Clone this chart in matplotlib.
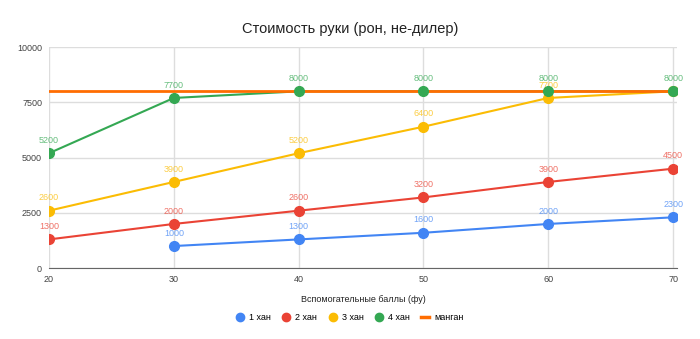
import matplotlib.pyplot as plt
from matplotlib.lines import Line2D

plt.rcParams['font.family'] = ['Liberation Sans', 'DejaVu Sans']

fu = [20, 30, 40, 50, 60, 70]
han1_x = [30, 40, 50, 60, 70]
han1 = [1000, 1300, 1600, 2000, 2300]
han2 = [1300, 2000, 2600, 3200, 3900, 4500]
han3 = [2600, 3900, 5200, 6400, 7700, 8000]
han4 = [5200, 7700, 8000, 8000, 8000, 8000]
mangan = [8000, 8000, 8000, 8000, 8000, 8000]
y_ticks = [0, 2500, 5000, 7500, 10000]

BLUE = '#4285F4'
RED = '#EA4335'
YELLOW = '#FBBC04'
GREEN = '#34A853'
ORANGE = '#FF6D01'

fig = plt.figure(figsize=(7, 3.39), dpi=100)
ax = fig.add_axes([0.07, 0.209, 0.897, 0.652])

# lines first, markers on top (like google charts)
ax.plot(fu, mangan, color=ORANGE, lw=2, zorder=3)


def series(xs, ys, color, skip=()):
    ax.plot(xs, ys, color=color, lw=1.5, zorder=2)
    ax.plot(xs, ys, ls='', color=color, marker='o', ms=7, zorder=4)
    for i, (x, y) in enumerate(zip(xs, ys)):
        if i in skip:
            continue
        ax.annotate(str(y), (x, y), xytext=(0, 6), textcoords='offset points',
                    ha='center', va='bottom', fontsize=6.5, color=color, alpha=0.75)


series(han1_x, han1, BLUE)
series(fu, han2, RED)
series(fu, han3, YELLOW, skip=(5,))
series(fu, han4, GREEN)

ax.set_xlim(20, 70.3)
ax.set_ylim(0, 10000)
ax.set_xticks(fu)
ax.set_yticks(y_ticks)
ax.tick_params(labelsize=6.5, length=0, colors='#444444', pad=5)
ax.grid(True, color='#dddddd', lw=1)
ax.set_axisbelow(True)
for s in ['top', 'right', 'left']:
    ax.spines[s].set_visible(False)
ax.spines['bottom'].set_color('#666666')

ax.set_xlabel('Вспомогательные баллы (фу)', fontsize=6.5, color='#222222', labelpad=8)
fig.suptitle('Стоимость руки (рон, не-дилер)', fontsize=10.5, y=0.935, color='#222222')

handles = [Line2D([], [], marker='o', ls='', color=c, ms=6) for c in (BLUE, RED, YELLOW, GREEN)]
handles.append(Line2D([], [], color=ORANGE, lw=2.5))
fig.legend(handles, ['1 хан', '2 хан', '3 хан', '4 хан', 'манган'], loc='center',
           bbox_to_anchor=(0.5, 0.062), ncol=5, frameon=False, fontsize=6.5,
           handlelength=0.8, columnspacing=1.3, handletextpad=0.6)

fig.savefig('out.png', dpi=100)
